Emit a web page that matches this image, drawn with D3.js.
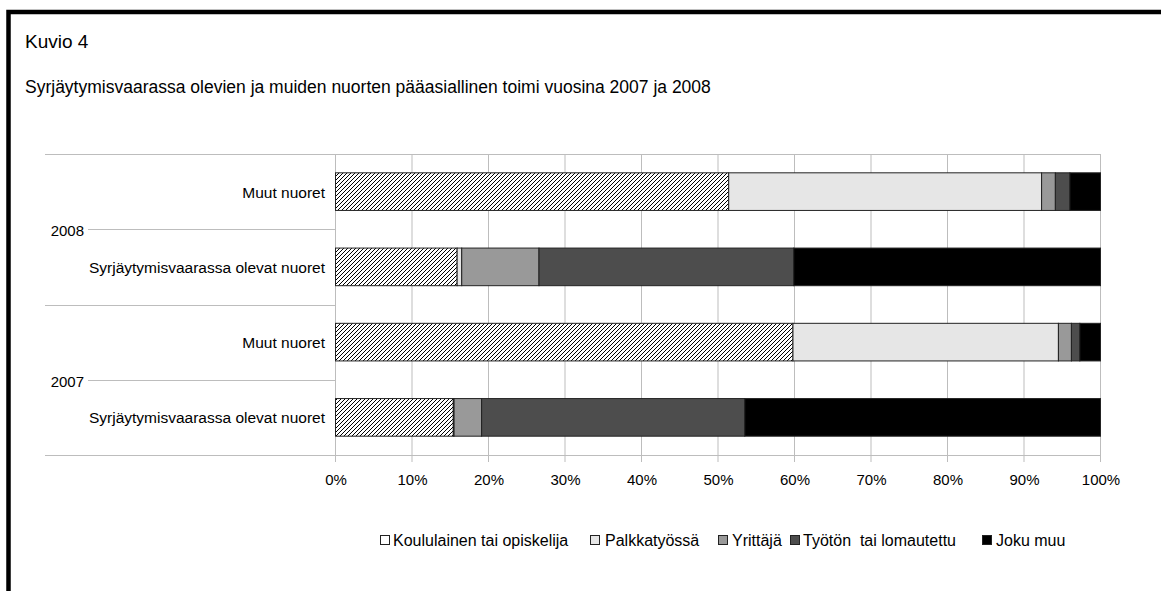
<!DOCTYPE html>
<html>
<head>
<meta charset="utf-8">
<script src="https://cdn.jsdelivr.net/npm/d3@7"></script>
<style>
  html, body { margin: 0; padding: 0; background: #fff; }
  svg { display: block; font-family: "Liberation Sans", Arial, sans-serif; }
  text { white-space: pre; }
</style>
</head>
<body>
<svg id="chart" width="1161" height="591"></svg>
<script>
// ---- data ----
const years = ["2008", "2007"];
const groups = ["Muut nuoret", "Syrjäytymisvaarassa olevat nuoret"];
const seriesNames = ["Koululainen tai opiskelija", "Palkkatyössä", "Yrittäjä", "Työtön  tai lomautettu", "Joku muu"];
// rows: 2008 Muut, 2008 Syrj., 2007 Muut, 2007 Syrj.
const koululainen = [51.4, 15.9, 59.8, 15.4];
const palkkatyossa = [40.9, 0.6, 34.7, 0.1];
const yrittaja = [1.8, 10.1, 1.7, 3.6];
const tyoton = [1.9, 33.3, 1.1, 34.4];
const jokuMuu = [4.0, 40.1, 2.7, 46.5];
const tickLabels = ["0%", "10%", "20%", "30%", "40%", "50%", "60%", "70%", "80%", "90%", "100%"];
const titleText = "Kuvio 4";
const subtitleText = "Syrjäytymisvaarassa olevien ja muiden nuorten pääasiallinen toimi vuosina 2007 ja 2008";

// ---- build rows ----
const rows = [];
years.forEach((yr) => groups.forEach((g) => rows.push({ key: yr + "|" + g, year: yr, group: g })));
const seriesArrays = [koululainen, palkkatyossa, yrittaja, tyoton, jokuMuu];
rows.forEach((r, i) => seriesNames.forEach((s, si) => r[s] = seriesArrays[si][i]));

const colors = ["url(#hatch)", "#e6e6e6", "#999999", "#4d4d4d", "#000000"];
const legendColors = ["#ffffff", "#e6e6e6", "#999999", "#4d4d4d", "#000000"];

const svg = d3.select("#chart");

// hatch pattern
const defs = svg.append("defs");
const pat = defs.append("pattern").attr("id", "hatch").attr("patternUnits", "userSpaceOnUse")
  .attr("width", 4).attr("height", 4);
pat.append("rect").attr("width", 4).attr("height", 4).attr("fill", "#fff");
pat.append("path").attr("d", "M-1,1 l2,-2 M0,4 l4,-4 M3,5 l2,-2").attr("stroke", "#000").attr("stroke-width", 1);

// frame
svg.append("rect").attr("x", 8.5).attr("y", 12).attr("width", 1300).attr("height", 700)
  .attr("fill", "none").attr("stroke", "#000").attr("stroke-width", 4.5);

svg.append("text").attr("x", 25).attr("y", 48).attr("font-size", 19).text(titleText);
svg.append("text").attr("x", 25).attr("y", 93).attr("font-size", 17.5).text(subtitleText);

// scales
const x = d3.scaleLinear().domain([0, 100]).range([335.5, 1100.5]);
const y = d3.scaleBand().domain(rows.map(r => r.key)).range([154, 455]).paddingInner(0.5).paddingOuter(0.25);
const gridColor = "#bdbdbd";

// vertical gridlines (with tick marks below the axis)
svg.append("g").selectAll("line").data(d3.range(0, 101, 10)).join("line")
  .attr("x1", d => x(d)).attr("x2", d => x(d)).attr("y1", 154).attr("y2", 462)
  .attr("stroke", gridColor).attr("stroke-width", 1);

// top line and x axis line
[154, 455].forEach(yy => svg.append("line").attr("x1", 45).attr("x2", x(100)).attr("y1", yy + 0.5).attr("y2", yy + 0.5)
  .attr("stroke", gridColor));
// group separator
const step = y.step();
svg.append("line").attr("x1", 45).attr("x2", x(0)).attr("y1", Math.round(154 + 2 * step) + 0.5).attr("y2", Math.round(154 + 2 * step) + 0.5).attr("stroke", gridColor);

// year labels + lines
years.forEach((yr, yi) => {
  const cy = Math.round(154 + step * (2 * yi + 1)) + 0.5;
  svg.append("line").attr("x1", 88).attr("x2", x(0)).attr("y1", cy).attr("y2", cy).attr("stroke", gridColor);
  svg.append("text").attr("x", 84).attr("y", cy + 6).attr("text-anchor", "end").attr("font-size", 15).text(yr);
});

// category labels
svg.append("g").selectAll("text").data(rows).join("text")
  .attr("x", 325).attr("y", d => y(d.key) + y.bandwidth() / 2 + 6)
  .attr("text-anchor", "end").attr("font-size", 15.5).text(d => d.group);

// x axis tick labels
const xAxis = d3.axisBottom(x).tickValues(d3.range(0, 101, 10)).tickFormat((d, i) => tickLabels[i]).tickSize(0).tickPadding(18);
const ax = svg.append("g").attr("transform", "translate(0,455)").call(xAxis);
ax.select(".domain").remove();
ax.selectAll("text").attr("font-size", 15).attr("font-family", "Liberation Sans, Arial, sans-serif").attr("fill", "#000")
  .attr("dy", null).attr("y", 30);

// bars
const stack = d3.stack().keys(seriesNames);
const stacked = stack(rows);
svg.append("g").selectAll("g").data(stacked).join("g")
  .attr("fill", (d, i) => colors[i])
  .selectAll("rect").data(d => d).join("rect")
  .attr("x", d => x(d[0])).attr("width", d => x(d[1]) - x(d[0]))
  .attr("y", d => y(d.data.key)).attr("height", y.bandwidth())
  .attr("stroke", "#222").attr("stroke-width", 1);

// legend
const legendSw = [380, 590, 718, 790, 982];
const legendTx = [393, 605, 732, 803, 996];
const lg = svg.append("g");
seriesNames.forEach((s, i) => {
  lg.append("rect").attr("x", legendSw[i] + 0.5).attr("y", 535.5).attr("width", 9).attr("height", 9)
    .attr("fill", legendColors[i]).attr("stroke", "#222").attr("stroke-width", 1);
  lg.append("text").attr("x", legendTx[i]).attr("y", 546).attr("font-size", 16).text(s);
});
</script>
</body>
</html>
